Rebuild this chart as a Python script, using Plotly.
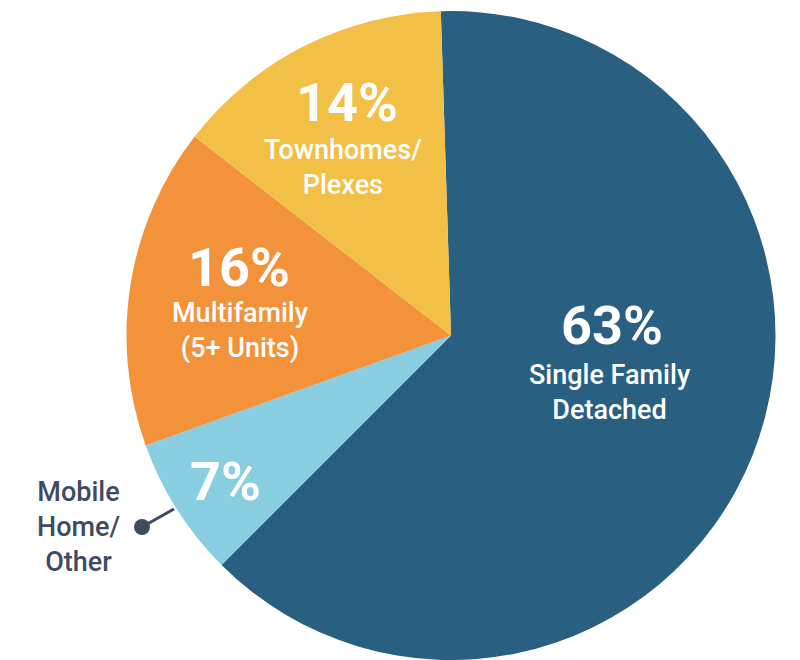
import plotly.graph_objects as go

categories = ["Single Family Detached", "Mobile Home/Other", "Multifamily (5+ Units)", "Townhomes/Plexes"]
values = [63, 7, 16, 14]
colors = ["#295f80", "#88cde0", "#f2923b", "#f2bf47"]
pct_labels = ["63%", "7%", "16%", "14%"]
name_labels = ["Single Family<br>Detached", "", "Multifamily<br>(5+ Units)", "Townhomes/<br>Plexes"]
side_label = "Mobile<br>Home/<br>Other"

W, H = 800, 660
FONT = "Roboto"

def px(x, y):
    return x / W, 1 - y / H

fig = go.Figure()
fig.add_trace(go.Pie(
    labels=categories, values=values, sort=False, direction="clockwise",
    rotation=-1.8, marker=dict(colors=colors, line=dict(width=0)),
    textinfo="none", hoverinfo="label+percent", showlegend=False,
    domain=dict(x=[126.5 / W, 775.5 / W], y=[0, 1 - 11 / H]),
))

annotations = []
pct_pos = [(612, 325), (226, 481), (239, 267), (347, 103)]
name_pos = [(610, 392), None, (240, 330), (343, 167)]
for i in range(len(categories)):
    x, y = px(*pct_pos[i])
    annotations.append(dict(x=x, y=y, xref="paper", yref="paper", showarrow=False,
                            text=pct_labels[i],
                            font=dict(family=FONT, size=54, color="white", weight=700),
                            xanchor="center", yanchor="middle"))
    if name_pos[i]:
        x, y = px(*name_pos[i])
        annotations.append(dict(x=x, y=y, xref="paper", yref="paper", showarrow=False,
                                text=name_labels[i],
                                font=dict(family=FONT, size=27, color="white", weight=500),
                                xanchor="center", yanchor="middle"))

x, y = px(78, 527)
annotations.append(dict(x=x, y=y, xref="paper", yref="paper", showarrow=False,
                        text=side_label,
                        font=dict(family=FONT, size=27, color="#3e4b63", weight=500),
                        xanchor="center", yanchor="middle"))

x0, y0 = px(142, 527)
x1, y1 = px(174, 509)
shapes = [
    dict(type="line", xref="paper", yref="paper", x0=x0, y0=y0, x1=x1, y1=y1,
         line=dict(color="#3e4b63", width=3)),
    dict(type="circle", xref="paper", yref="paper",
         x0=(142 - 8) / W, x1=(142 + 8) / W, y0=1 - (527 + 8) / H, y1=1 - (527 - 8) / H,
         fillcolor="#3e4b63", line=dict(width=0)),
]

fig.update_layout(width=W, height=H, margin=dict(l=0, r=0, t=0, b=0),
                  paper_bgcolor="white", plot_bgcolor="white",
                  annotations=annotations, shapes=shapes)

fig.write_html("out.html")
